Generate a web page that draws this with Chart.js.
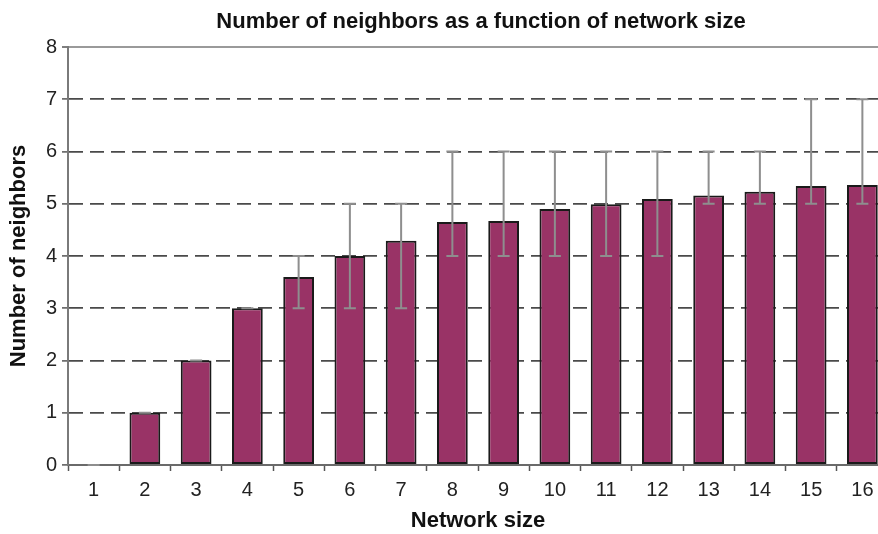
<!DOCTYPE html>
<html>
<head>
<meta charset="utf-8">
<script src="https://cdn.jsdelivr.net/npm/chart.js@4/dist/chart.umd.min.js"></script>
<style>
  html, body { margin: 0; padding: 0; background: #ffffff; overflow: hidden; }
  #wrap { width: 878px; height: 534px; overflow: hidden; }
  canvas { display: block; }
</style>
</head>
<body>
<div id="wrap"><canvas id="chart" width="890" height="534"></canvas></div>
<script>
// Network sizes on the x axis
const networkSizes = ['1', '2', '3', '4', '5', '6', '7', '8', '9', '10', '11', '12', '13', '14', '15', '16'];
// Mean number of neighbors per network size
const meanNeighbors = [0, 1, 2, 3, 3.6, 4.0, 4.29, 4.65, 4.67, 4.9, 4.99, 5.09, 5.16, 5.23, 5.34, 5.36];
// Observed range (min / max) shown as whiskers
const minNeighbors = [0, 1, 2, 3, 3, 3, 3, 4, 4, 4, 4, 4, 5, 5, 5, 5];
const maxNeighbors = [0, 1, 2, 3, 4, 5, 5, 6, 6, 6, 6, 6, 6, 6, 7, 7];
// Y axis tick values
const yTicks = [0, 1, 2, 3, 4, 5, 6, 7, 8];

const chartTitle = 'Number of neighbors as a function of network size';
const xTitle = 'Network size';
const yTitle = 'Number of neighbors';

const FONT = '"Liberation Sans", Arial, Helvetica, sans-serif';

// Whiskers drawn on top of the bars
const rangeWhiskers = {
  id: 'rangeWhiskers',
  afterDatasetsDraw(chart) {
    const ctx = chart.ctx;
    const meta = chart.getDatasetMeta(0);
    const yScale = chart.scales.y;
    ctx.save();
    ctx.strokeStyle = '#8e8e8e';
    ctx.lineWidth = 2;
    const cap = 6;
    meta.data.forEach((bar, i) => {
      const x = bar.x;
      const yLo = yScale.getPixelForValue(minNeighbors[i]);
      const yHi = yScale.getPixelForValue(maxNeighbors[i]);
      ctx.beginPath();
      ctx.moveTo(x, yLo);
      ctx.lineTo(x, yHi);
      ctx.moveTo(x - cap, yLo);
      ctx.lineTo(x + cap, yLo);
      ctx.moveTo(x - cap, yHi);
      ctx.lineTo(x + cap, yHi);
      ctx.stroke();
    });
    ctx.restore();
  }
};

// Chart heading centred over the plot area
const plotHeading = {
  id: 'plotHeading',
  afterDraw(chart) {
    const ctx = chart.ctx;
    const area = chart.chartArea;
    ctx.save();
    ctx.fillStyle = '#111111';
    ctx.font = 'bold 22px ' + FONT;
    ctx.textAlign = 'center';
    ctx.textBaseline = 'alphabetic';
    ctx.fillText(chartTitle, (area.left + area.right) / 2 + 3, 28);
    ctx.restore();
  }
};

new Chart(document.getElementById('chart'), {
  type: 'bar',
  data: {
    labels: networkSizes,
    datasets: [{
      data: meanNeighbors,
      backgroundColor: '#993366',
      borderColor: '#1a1a1a',
      borderWidth: 2,
      borderSkipped: false,
      barPercentage: 0.6,
      categoryPercentage: 1.0
    }]
  },
  options: {
    responsive: false,
    animation: false,
    devicePixelRatio: 1,
    layout: { padding: { top: 47, right: 2, bottom: 0, left: 0 } },
    plugins: {
      legend: { display: false },
      tooltip: { enabled: false },
      title: { display: false }
    },
    scales: {
      x: {
        offset: true,
        grid: {
          offset: true,
          drawOnChartArea: false,
          drawTicks: true,
          tickLength: 6,
          tickColor: '#555555',
          tickWidth: 1.5
        },
        border: { display: true, color: '#6a6a6a', width: 2 },
        ticks: {
          color: '#222222',
          font: { family: FONT, size: 20 },
          padding: 7,
          maxRotation: 0
        },
        title: {
          display: true,
          text: xTitle,
          color: '#111111',
          font: { family: FONT, size: 22, weight: 'bold', lineHeight: 1.0 },
          padding: { top: 0, bottom: 2 }
        },
        afterFit(scale) { scale.height = 69; }
      },
      y: {
        min: 0,
        max: 8,
        afterBuildTicks(scale) { scale.ticks = yTicks.map(v => ({ value: v })); },
        grid: {
          color: (c) => {
            if (!c.tick) return '#4a4a4a';
            if (c.tick.value === 8) return '#9a9a9a';
            if (c.tick.value === 0) return '#6a6a6a';
            return '#4a4a4a';
          },
          lineWidth: (c) => (c.tick && c.tick.value === 8) ? 2 : 1.8,
          drawTicks: true,
          tickLength: 6,
          tickColor: '#555555',
          tickWidth: 1.5
        },
        border: {
          display: true,
          color: '#7a7a7a',
          width: 2,
          dash: (c) => (c.tick && c.tick.value > 0 && c.tick.value < 8) ? [14, 7] : []
        },
        ticks: {
          color: '#222222',
          font: { family: FONT, size: 20 },
          padding: 5
        },
        title: {
          display: true,
          text: yTitle,
          color: '#111111',
          font: { family: FONT, size: 22, weight: 'bold', lineHeight: 1.0 },
          padding: { top: 8, bottom: 0 }
        },
        afterFit(scale) { scale.width = 68; }
      }
    }
  },
  plugins: [rangeWhiskers, plotHeading]
});
</script>
</body>
</html>
